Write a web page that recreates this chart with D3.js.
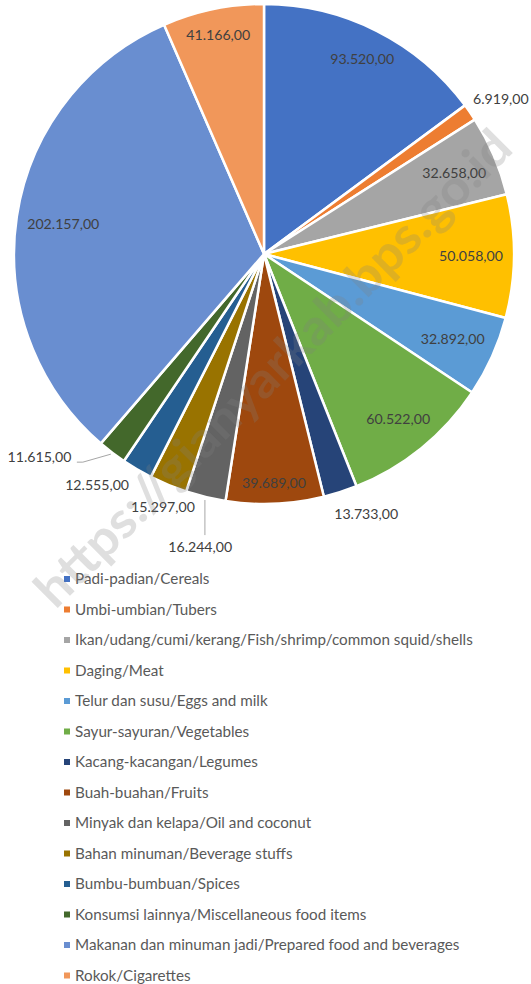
<!DOCTYPE html>
<html>
<head>
<meta charset="utf-8">
<script src="https://cdn.jsdelivr.net/npm/d3@7"></script>
<style>
  body { margin: 0; background: #fff; }
  svg text { font-family: Lato, "Open Sans", sans-serif; }
</style>
</head>
<body>
<script>
// categories and values
var categories = [
  "Padi-padian/Cereals",
  "Umbi-umbian/Tubers",
  "Ikan/udang/cumi/kerang/Fish/shrimp/common squid/shells",
  "Daging/Meat",
  "Telur dan susu/Eggs and milk",
  "Sayur-sayuran/Vegetables",
  "Kacang-kacangan/Legumes",
  "Buah-buahan/Fruits",
  "Minyak dan kelapa/Oil and coconut",
  "Bahan minuman/Beverage stuffs",
  "Bumbu-bumbuan/Spices",
  "Konsumsi lainnya/Miscellaneous food items",
  "Makanan dan minuman jadi/Prepared food and beverages",
  "Rokok/Cigarettes"
];
var values = [93520, 6919, 32658, 50058, 32892, 60522, 13733, 39689,
              16244, 15297, 12555, 11615, 202157, 41166];
var colors = ["#4472C4", "#ED7D31", "#A5A5A5", "#FFC000", "#5B9BD5", "#70AD47", "#264478",
              "#9E480E", "#636363", "#997300", "#255E91", "#43682B", "#698ED0", "#F1975A"];
// slices too thin for an inside label
var outside = [1, 6, 8, 9, 10, 11];

var width = 531, height = 984;
var cx = 264, cy = 254, radius = 250;

var svg = d3.select("body").append("svg")
  .attr("width", width)
  .attr("height", height);

var pie = d3.pie().sort(null).value(function(d) { return d; });
var arcs = pie(values);
var arc = d3.arc().innerRadius(0).outerRadius(radius);

var fmt = function(v) {
  return d3.format(",")(v).replace(/,/g, ".") + ",00";
};

// pick font sizes so the text runs as wide as in the original
function fitSize(str, target, base) {
  var t = svg.append("text").style("font-size", base + "px").text(str);
  var w = t.node().getComputedTextLength();
  t.remove();
  return base * target / w;
}
var labelSize = fitSize("93.520,00", 64, 14);
var legendSize = fitSize(categories[2], 398, 14);

var g = svg.append("g").attr("transform", "translate(" + cx + "," + cy + ")");

g.selectAll("path")
  .data(arcs)
  .enter()
  .append("path")
  .attr("d", arc)
  .attr("fill", function(d, i) { return colors[i]; })
  .attr("stroke", "#fff")
  .attr("stroke-width", 2.5)
  .attr("stroke-linejoin", "round");

// data labels: inside-end for big slices, just outside for thin ones
var labelH = 14, pad = 10;
arcs.forEach(function(d, i) {
  var a = (d.startAngle + d.endAngle) / 2;
  var s = Math.sin(a), c = -Math.cos(a);
  var t = g.append("text")
    .attr("dy", "0.35em")
    .attr("fill", "#404040")
    .style("font-size", labelSize + "px")
    .text(fmt(values[i]))
    .attr("class", "lbl lbl" + i);
  var w = t.node().getComputedTextLength();
  var x, y, anchor = "middle";
  if (outside.indexOf(i) < 0) {
    // push label outwards until its far corner sits just inside the rim
    var dist = radius - pad;
    for (var k = 0; k < 300; k++) {
      var px = s * k + Math.sign(s) * w / 2, py = c * k + Math.sign(c) * labelH / 2;
      if (Math.sqrt(px * px + py * py) > radius - pad) { dist = k - 1; break; }
    }
    x = s * dist; y = c * dist;
  } else {
    x = s * (radius + 6); y = c * (radius + 6);
    anchor = s >= 0 ? "start" : "end";
  }
  t.attr("x", x).attr("y", y).attr("text-anchor", anchor);
});

// nudge outside labels that crowd together
var nudge = {1: [-2, -10], 6: [-8, 16], 8: [-4, 44], 9: [29, 17], 10: [-5, 10], 11: [-37, 0]};
Object.keys(nudge).forEach(function(k) {
  var t = g.select(".lbl" + k);
  t.attr("x", +t.attr("x") + nudge[k][0]).attr("y", +t.attr("y") + nudge[k][1]);
});
g.select(".lbl8").attr("text-anchor", "middle");

// leader lines
var ma = function(i) { return (arcs[i].startAngle + arcs[i].endAngle) / 2; };
var a8 = ma(8);
g.append("line")
  .attr("x1", Math.sin(a8) * (radius + 3)).attr("y1", -Math.cos(a8) * (radius + 3))
  .attr("x2", Math.sin(a8) * (radius + 3)).attr("y2", -Math.cos(a8) * radius + 38)
  .attr("stroke", "#a6a6a6").attr("stroke-width", 1);
var a11 = ma(11);
var lx = Math.sin(a11) * (radius + 2), ly = -Math.cos(a11) * (radius + 2);
g.append("polyline")
  .attr("points", [[lx, ly], [lx - 28, ly + 8], [lx - 34, ly + 8]].join(" "))
  .attr("fill", "none").attr("stroke", "#a6a6a6").attr("stroke-width", 1);

// legend
var legend = svg.append("g").attr("transform", "translate(64,579)");
var rows = legend.selectAll("g")
  .data(categories)
  .enter()
  .append("g")
  .attr("transform", function(d, i) { return "translate(0," + (i * 30.5) + ")"; });
rows.append("rect")
  .attr("x", 0).attr("y", -3)
  .attr("width", 6).attr("height", 6)
  .attr("fill", function(d, i) { return colors[i]; });
rows.append("text")
  .attr("x", 11).attr("y", 0)
  .attr("dy", "0.36em")
  .attr("fill", "#595959")
  .style("font-size", legendSize + "px")
  .text(function(d) { return d; });

// watermark
svg.append("text")
  .attr("transform", "translate(273,368) rotate(-45)")
  .attr("text-anchor", "middle")
  .attr("dy", "0.35em")
  .attr("fill", "#808080")
  .attr("fill-opacity", 0.25)
  .attr("textLength", 650)
  .attr("lengthAdjust", "spacingAndGlyphs")
  .style("font-size", "50px")
  .style("font-weight", "bold")
  .text("https://gianyarkab.bps.go.id");
</script>
</body>
</html>
